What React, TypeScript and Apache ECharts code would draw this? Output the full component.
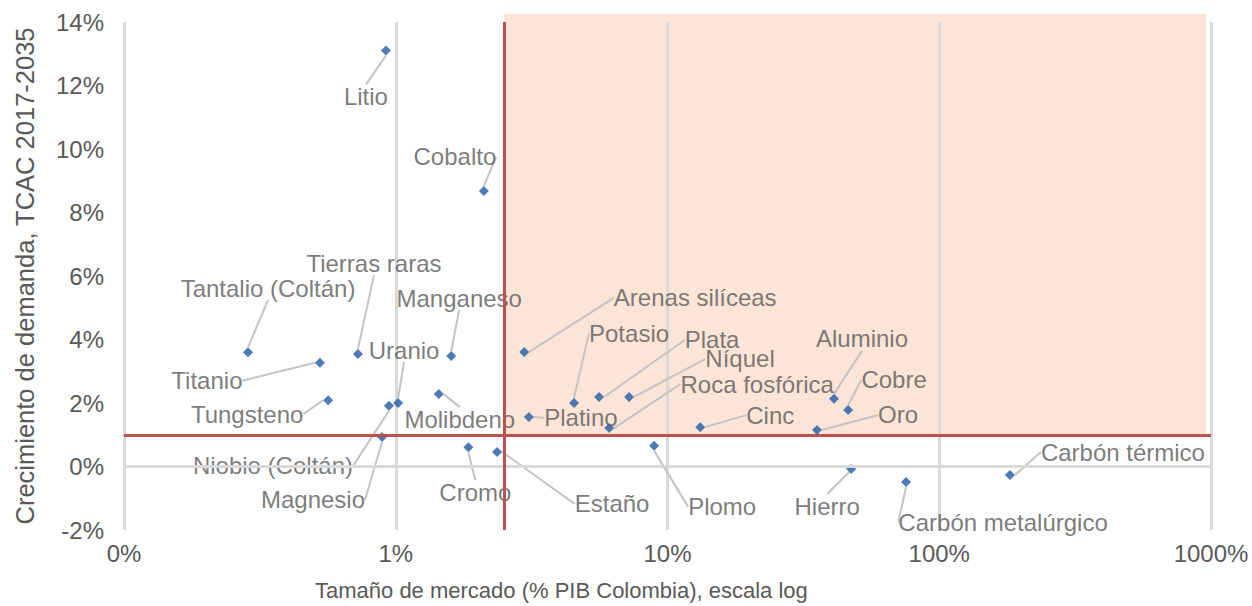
import React, { useEffect, useRef } from "react";
import * as echarts from "echarts";

// Minerales
const names: string[] = [
  "Litio", "Cobalto", "Tantalio (Coltán)", "Tierras raras", "Titanio", "Tungsteno",
  "Uranio", "Niobio (Coltán)", "Magnesio", "Manganeso", "Molibdeno", "Cromo",
  "Estaño", "Platino", "Arenas silíceas", "Potasio", "Plata", "Níquel",
  "Roca fosfórica", "Plomo", "Cinc", "Aluminio", "Cobre", "Oro", "Hierro",
  "Carbón metalúrgico", "Carbón térmico",
];
// Tamaño de mercado (% PIB Colombia)
const marketSize: number[] = [
  0.92, 2.11, 0.286, 0.726, 0.526, 0.564,
  1.02, 0.944, 0.89, 1.6, 1.44, 1.85,
  2.36, 3.09, 2.97, 4.53, 5.6, 7.22,
  6.1, 8.93, 13.2, 41, 46.2, 35.5, 47.4,
  75.5, 182,
];
// Crecimiento de demanda, TCAC 2017-2035 (%)
const demandGrowth: number[] = [
  13.1, 8.68, 3.6, 3.54, 3.27, 2.09,
  2.0, 1.91, 0.93, 3.48, 2.28, 0.61,
  0.46, 1.56, 3.61, 2.0, 2.19, 2.19,
  1.21, 0.65, 1.24, 2.13, 1.78, 1.15, -0.08,
  -0.49, -0.27,
];
// Umbrales
const sizeThreshold = 2.5;
const growthThreshold = 1;
const xTicks = [0.1, 1, 10, 100, 1000];
const yTickMin = -2;
const yTickMax = 14;
const yTickStep = 2;

// label offsets in px (layout only)
const labelOffsets: [number, number][] = [
  [-20, 46], [-29, -34], [20, -64], [16, -91], [-113, 18], [-81, 14],
  [6, -53], [-116, 60], [-69, 63], [8, -58], [21, 25], [7, 45],
  [115, 52], [52, 1], [171, -54], [55, -70], [113, -57], [111, -38],
  [148, -44], [68, 61], [70, -12], [28, -60], [46, -30], [81, -15], [-24, 37],
  [97, 40], [113, -23],
];

const FONT = "'Liberation Sans', Arial, sans-serif";
const TXT = "#595959";

export default function App() {
  const ref = useRef<HTMLDivElement>(null);
  useEffect(() => {
    if (!ref.current) return;
    const chart = echarts.init(ref.current, undefined, { renderer: "svg" });
    const data = names.map((n, i) => ({ name: n, value: [marketSize[i], demandGrowth[i]] }));
    const option: any = {
      animation: false,
      textStyle: { fontFamily: FONT },
      grid: { left: 124, right: 41, top: 22, bottom: 76, containLabel: false },
      xAxis: {
        type: "log",
        logBase: 10,
        min: xTicks[0],
        max: xTicks[xTicks.length - 1],
        axisLine: { show: false },
        axisTick: { show: false },
        splitLine: { show: true, lineStyle: { color: "#d9d9d9", width: 3 } },
        axisLabel: {
          color: TXT,
          fontSize: 24,
          fontFamily: FONT,
          margin: 11,
          formatter: (v: number) => (v < 1 ? "0%" : `${Math.round(v)}%`),
        },
      },
      yAxis: {
        type: "value",
        min: yTickMin,
        max: yTickMax,
        interval: yTickStep,
        axisLine: { show: false },
        axisTick: { show: false },
        splitLine: { show: false },
        axisLabel: { color: TXT, fontSize: 24, fontFamily: FONT, margin: 20, formatter: "{value}%" },
        name: "Crecimiento de demanda, TCAC 2017-2035",
        nameLocation: "middle",
        nameGap: 86,
        nameTextStyle: { color: TXT, fontSize: 25.5, fontFamily: FONT },
      },
      series: [
        {
          type: "scatter",
          data: [],
          silent: true,
          markLine: {
            silent: true,
            symbol: "none",
            label: { show: false },
            lineStyle: { color: "#d9d9d9", width: 3, type: "solid" },
            data: [{ yAxis: 0 }],
          },
        },
        {
          type: "scatter",
          data: [],
          silent: true,
          markLine: {
            silent: true,
            symbol: "none",
            label: { show: false },
            lineStyle: { color: "#c0504d", width: 3, type: "solid" },
            data: [{ xAxis: sizeThreshold }, { yAxis: growthThreshold }],
          },
        },
        {
          type: "scatter",
          symbol: "diamond",
          symbolSize: 10,
          itemStyle: { color: "#1f5aa6" },
          data,
          label: {
            show: true,
            position: "inside",
            formatter: "{b}",
            color: TXT,
            fontSize: 24,
            fontFamily: FONT,
          },
          labelLine: { show: true, lineStyle: { color: "#c4c4c4", width: 2 } },
          labelLayout: (p: any) => ({ dx: labelOffsets[p.dataIndex][0], dy: labelOffsets[p.dataIndex][1] }),
        },
      ],
    };
    chart.setOption(option);
    const p1 = chart.convertToPixel({ gridIndex: 0 }, [sizeThreshold, yTickMax]) as number[];
    const p2 = chart.convertToPixel({ gridIndex: 0 }, [xTicks[xTicks.length - 1], growthThreshold]) as number[];
    chart.setOption({
      graphic: [
        {
          type: "rect",
          z: -10,
          silent: true,
          shape: { x: p1[0], y: p1[1] - 8, width: p2[0] - p1[0] - 5, height: p2[1] - p1[1] + 8 },
          style: { fill: "#fce4d6" },
        },
        {
          type: "text",
          left: 315,
          top: 579,
          style: {
            text: "Tamaño de mercado (% PIB Colombia), escala log",
            fill: TXT,
            font: `22px ${FONT}`,
          },
        },
      ],
    });
    return () => chart.dispose();
  }, []);
  return <div ref={ref} style={{ width: 1252, height: 606, position: "absolute", left: 0, top: 0 }} />;
}
